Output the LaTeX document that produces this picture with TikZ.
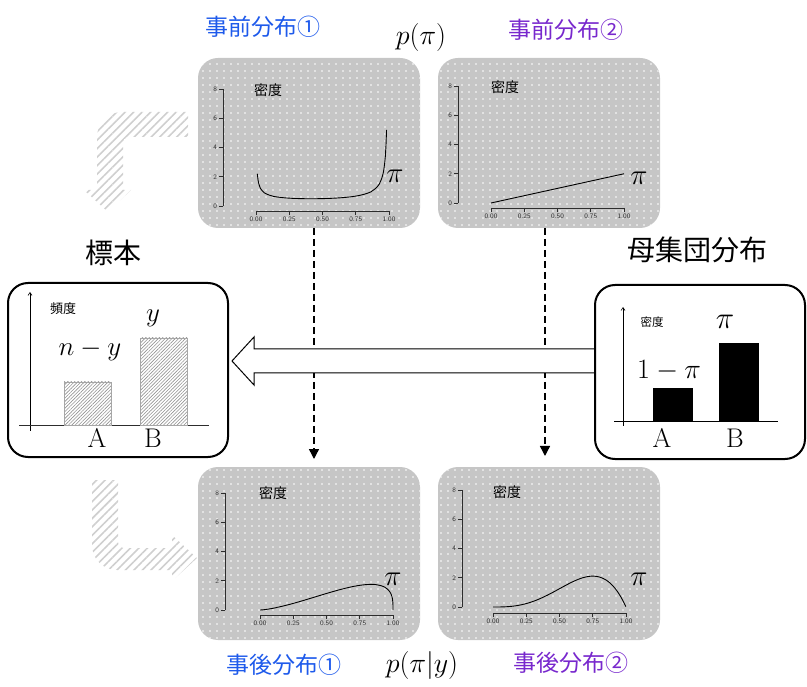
\RequirePackage{fix-cm}
\documentclass[tikz,border=0pt]{standalone}
\usepackage{fontspec}
\newfontfamily\jp{Noto Sans CJK JP}
\usetikzlibrary{patterns.meta,arrows.meta,calc}
\definecolor{hblue}{RGB}{30,90,235}
\definecolor{hpurple}{RGB}{120,40,205}
\definecolor{panelgray}{RGB}{198,198,198}
\definecolor{axgray}{RGB}{45,45,45}

\newcommand\panelaxes[4]{%
  \draw[axl] (#1,#2) -- (#1,{#2-117});
  \foreach \v in {0,2,4,6,8}
    \draw[axl] (#1,{#2-14.625*\v}) -- ({#1-4},{#2-14.625*\v}) node[left=0.5pt,ticklab] {\v};
  \draw[axl] (#3,#4) -- ({#3+133},#4);
  \foreach \v/\t in {0/0.00,0.25/0.25,0.5/0.50,0.75/0.75,1/1.00}
    \draw[axl] ({#3+133*\v},#4) -- ({#3+133*\v},{#4+4}) node[below=0.3pt,ticklab] {\t};
}

\begin{document}
\begin{tikzpicture}[x=1pt,y=-1pt,
  panel/.style={fill=panelgray, rounded corners=20pt, inner sep=0pt, outer sep=0pt,
    minimum width=222pt,
    postaction={pattern={Dots[distance=7pt,radius=0.8pt]}, pattern color=white}},
  axl/.style={draw=axgray, line width=0.9pt},
  ticklab/.style={font=\sffamily\fontsize{6.8}{7}\selectfont, text=axgray, inner sep=1pt},
  curve/.style={draw=black, line width=0.9pt},
  dens/.style={font=\jp\fontsize{14}{16}\selectfont, inner sep=0pt},
  pilab/.style={font=\fontsize{29}{31}\selectfont, inner sep=0pt},
  hand/.style={font=\jp\fontsize{23}{26}\selectfont, inner sep=0pt},
  bigbox/.style={draw=black, line width=2pt, rounded corners=20pt, fill=white, inner sep=0pt, outer sep=0pt},
  hatcharrow/.style={pattern={Lines[angle=45,distance=6pt,line width=1.6pt]}, pattern color=gray!38},
  barhatch/.style={draw=gray!70, line width=0.8pt, pattern={Lines[angle=45,distance=2.4pt,line width=0.6pt]}, pattern color=gray!85},
  dasharrow/.style={draw=black, line width=1.4pt, dash pattern=on 7pt off 4pt, -{Triangle[width=10pt,length=10pt]}},
  bigarrow/.style={draw=black, line width=1pt, fill=white, line join=miter},
  title/.style={font=\jp\fontsize{28}{30}\selectfont, inner sep=0pt},
  mlab/.style={font=\fontsize{27}{30}\selectfont, inner sep=0pt},
  ablab/.style={font=\fontsize{27}{30}\selectfont, inner sep=0pt}
]
\useasboundingbox (0,0) rectangle (807,687);

% hatched L arrows
\fill[hatcharrow] (188,112) -- (188,137) [rounded corners=6pt] -- (123,137) [sharp corners] -- (123,190)
  -- (131,190) -- (108,212) -- (84,190) -- (97,190) [rounded corners=25pt] -- (97,112) [sharp corners] -- cycle;
\fill[hatcharrow] (92,480) -- (118,480) [rounded corners=6pt] -- (118,548) [sharp corners] -- (172,548)
  -- (172,535) -- (197,558) -- (172,581) -- (172,570) [rounded corners=25pt] -- (92,570) [sharp corners] -- cycle;

% panels
\node[panel, minimum height=170pt] (pTL) at (309,143) {};
\node[panel, minimum height=170pt] (pTR) at (549,143) {};
\node[panel, minimum height=173pt] (pBL) at (309,553.5) {};
\node[panel, minimum height=173pt] (pBR) at (549,553.5) {};

% prior 1
\panelaxes{223}{206}{256}{211}
\draw[curve] plot[domain=0.01:0.991,samples=220] ({256+132*\x},{206-14.625*pow(\x,-0.5)*pow(1-\x,-0.7)/4.555});
\node[dens] (dTL) at (268,90) {密度};
\node[pilab] (piTL) at (395,176) {$\pi$};
% prior 2
\panelaxes{458}{203}{491}{208}
\draw[curve] (491,203) -- (624,{203-14.625*2});
\node[dens] (dTR) at (505,87) {密度};
\node[pilab] (piTR) at (639,178) {$\pi$};
% posterior 1
\panelaxes{225}{610}{260}{615}
\draw[curve] (260,610) -- plot[domain=0.001:0.99,samples=150] ({260+133*\x},{610-14.625*pow(\x,1.5)*pow(1-\x,0.3)/0.2542})
  -- plot[domain=0.99:0.99999,samples=40] ({260+133*\x},{610-14.625*pow(\x,1.5)*pow(1-\x,0.3)/0.2542}) -- (393,610);
\node[dens] (dBL) at (273,493) {密度};
\node[pilab] (piBL) at (393,579) {$\pi$};
% posterior 2
\panelaxes{462}{607}{493}{613}
\draw[curve] plot[domain=0:1,samples=120] ({493+133*\x},{607-14.625*20*\x^3*(1-\x)});
\node[dens] (dBR) at (507,492) {密度};
\node[pilab] (piBR) at (639,579) {$\pi$};

% dashed arrows
\coordinate (dl) at (314,0);
\coordinate (dr) at (545,0);
\draw[dasharrow] (pTL.south -| dl) -- ($(pBL.north -| dl)+(0,-8)$);
\draw[dasharrow] (pTR.south -| dr) -- ($(pBR.north -| dr)+(0,-11)$);

% big arrow from population to sample
\node[bigbox, minimum width=220pt, minimum height=174pt] (samp) at (118,370) {};
\coordinate (atip) at (232,361);
\path (700,361) coordinate (atail);
\draw[bigarrow] (atip) -- ($(atip)+(22,-24)$) -- ($(atip)+(22,-12)$) -- ($(atail)+(-105,-12)$)
  -- ($(atail)+(-105,12)$) -- ($(atip)+(22,12)$) -- ($(atip)+(22,24)$) -- cycle;
\node[bigbox, minimum width=210pt, minimum height=174pt] (pop) at (700,372) {};

% sample box content
\draw[line width=0.6pt, -{Straight Barb[length=3pt,width=4pt]}] (30,431) -- (30,292);
\draw[line width=0.9pt, draw=axgray] (19,425) -- (209,425);
\draw[barhatch] (64,425) rectangle (111,382);
\draw[barhatch] (140,425) rectangle (187,338);
\node[font=\jp\fontsize{13}{15}\selectfont, inner sep=0pt] (hindo) at (63,309) {頻度};
\node[mlab] (nmy) at (90,350) {$n-y$};
\node[mlab] (ylab) at (153,318) {$y$};
\node[ablab] (sA) at (97,438) {A};
\node[ablab] (sB) at (153,438) {B};

% population box content
\draw[line width=0.6pt, -{Straight Barb[length=3pt,width=4pt]}] (623,426) -- (623,307);
\draw[line width=0.9pt] (614,421) -- (778,421);
\fill[black] (653,421) rectangle (693,388);
\fill[black] (719,421) rectangle (759,343);
\node[font=\jp\fontsize{11.5}{13}\selectfont, inner sep=0pt] (mitsudo) at (652,322) {密度};
\node[font=\fontsize{31}{33}\selectfont, inner sep=0pt] (pil) at (725,322) {$\pi$};
\node[font=\fontsize{28}{30}\selectfont, inner sep=0pt] (omp) at (669,371) {$1-\pi$};
\node[ablab] (pA) at (662,438) {A};
\node[ablab] (pB) at (735,438) {B};

% titles
\node[title] (hyohon) at (113,253) {標本};
\node[title] (boshu) at (697,250) {母集団分布};
\node[hand, text=hblue] (pre1) at (263,27) {事前分布①};
\node[hand, text=hpurple] (pre2) at (566,30) {事前分布②};
\node[hand, text=hblue] (post1) at (284,665) {事後分布①};
\node[hand, text=hpurple] (post2) at (571,663) {事後分布②};
\node[font=\fontsize{28}{30}\selectfont, inner sep=0pt] (ppi) at (421,38) {$p(\pi)$};
\node[font=\fontsize{28}{30}\selectfont, inner sep=0pt] (ppiy) at (422,665) {$p(\pi|y)$};
\end{tikzpicture}
\end{document}
